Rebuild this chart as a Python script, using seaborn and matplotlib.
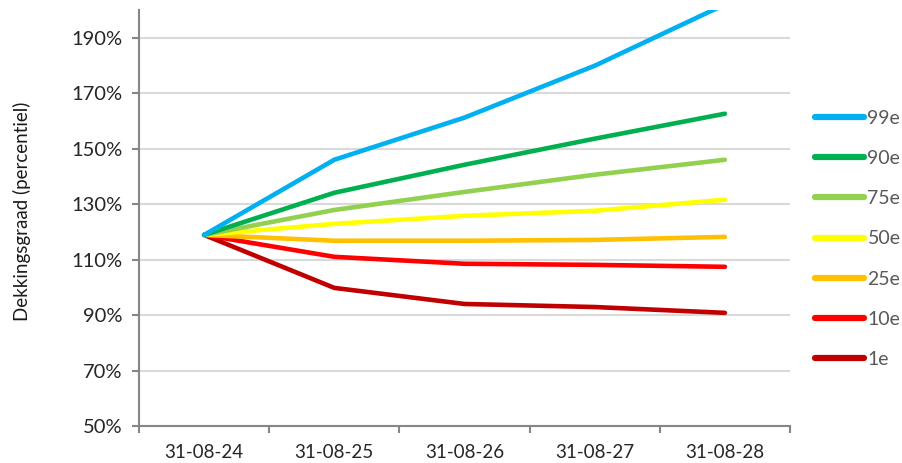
import matplotlib
matplotlib.use("Agg")
import matplotlib.pyplot as plt
import seaborn as sns
import pandas as pd
from matplotlib.ticker import FixedLocator, FuncFormatter

dates = ["31-08-24", "31-08-25", "31-08-26", "31-08-27", "31-08-28"]
labels = ["99e", "90e", "75e", "50e", "25e", "10e", "1e"]
p99 = [118.9, 146.0, 161.2, 179.9, 202.0]
p90 = [118.9, 134.1, 144.2, 153.6, 162.6]
p75 = [118.9, 127.9, 134.4, 140.6, 146.0]
p50 = [118.9, 122.9, 125.8, 127.6, 131.6]
p25 = [118.9, 116.8, 116.8, 117.1, 118.2]
p10 = [118.9, 111.0, 108.5, 108.1, 107.4]
p01 = [118.9, 99.8, 94.0, 92.9, 90.8]
colors = ["#00B0F0", "#00B050", "#92D050", "#FFFF00", "#FFC000", "#FF0000", "#C00000"]
yticks = [50, 70, 90, 110, 130, 150, 170, 190]

series = [p99, p90, p75, p50, p25, p10, p01]
rows = []
for lab, vals in zip(labels, series):
    for i, v in enumerate(vals):
        rows.append({"pos": i, "datum": dates[i], "percentiel": lab, "waarde": v})
df = pd.DataFrame(rows)

sns.set_theme(style="white")
plt.rcParams["font.family"] = ["Lato", "DejaVu Sans"]

fig = plt.figure(figsize=(9.03, 4.63), dpi=100)
ax = fig.add_axes([139/903, 1-426/463, (790-139)/903, (426-10)/463])

sns.lineplot(data=df, x="pos", y="waarde", hue="percentiel", hue_order=labels[::-1],
             palette=dict(zip(labels, colors)), linewidth=3.3, ax=ax, legend=False,
             solid_capstyle="round", solid_joinstyle="round")

ax.set_xlim(-0.5, 4.5)
ax.set_ylim(50, 200)
ax.yaxis.set_major_locator(FixedLocator(yticks))
ax.yaxis.set_major_formatter(FuncFormatter(lambda v, p: f"{int(v)}%"))
ax.set_xticks(range(len(dates)))
ax.set_xticklabels(dates)
ax.set_xticks([i - 0.5 for i in range(len(dates) + 1)], minor=True)
ax.tick_params(axis="x", which="major", length=0, pad=13, labelsize=13.5, labelcolor="#262626")
ax.tick_params(axis="x", which="minor", length=5, width=1.5, color="#868686", direction="out")
ax.tick_params(axis="y", which="major", length=5, width=1.5, color="#868686", direction="out",
               pad=7, labelsize=14.5, labelcolor="#262626")
ax.xaxis.set_ticks_position("bottom")
ax.yaxis.set_ticks_position("left")
ax.set_xlabel("")
ax.set_ylabel("Dekkingsgraad (percentiel)", fontsize=13.5, color="#1a1a1a")
ax.yaxis.label.set_verticalalignment("top")
ax.yaxis.set_label_coords(13/903, 1-211/463, transform=fig.transFigure)

ax.grid(axis="y", color="#D9D9D9", linewidth=1.5)
ax.set_axisbelow(True)
for s in ["top", "right"]:
    ax.spines[s].set_visible(False)
for s in ["left", "bottom"]:
    ax.spines[s].set_color("#868686")
    ax.spines[s].set_linewidth(1.5)

handles = [plt.Line2D([0], [0], color=c, linewidth=4.5, solid_capstyle="round") for c in colors]
leg = fig.legend(handles, labels, loc="upper left", bbox_to_anchor=(815/903, 1-110/463),
                 frameon=False, fontsize=14, handlelength=2.5, handletextpad=0.2,
                 labelspacing=1.19, borderpad=0, borderaxespad=0)
for t in leg.get_texts():
    t.set_color("#595959")

fig.savefig("out.png", dpi=100)
